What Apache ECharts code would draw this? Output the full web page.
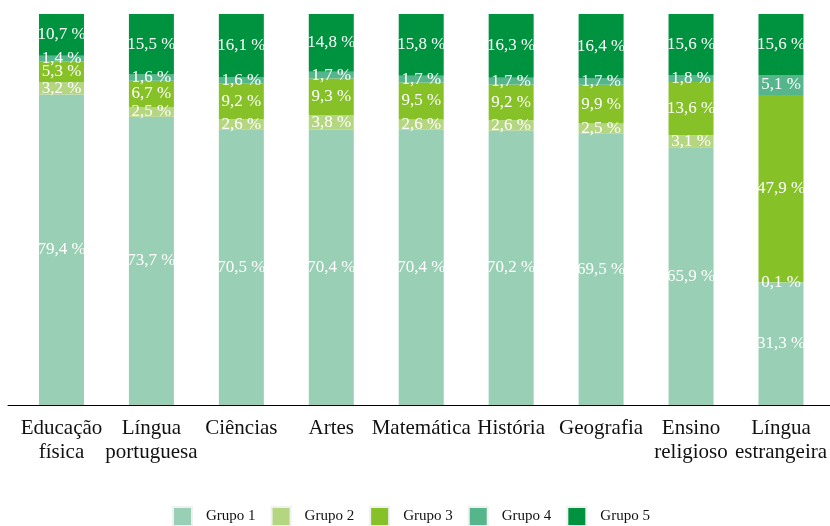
<!DOCTYPE html>
<html>
<head>
<meta charset="utf-8">
<script src="https://cdn.jsdelivr.net/npm/echarts@6/dist/echarts.min.js"></script>
<style>
  html, body { margin: 0; padding: 0; background: #fff; }
  #chart { width: 830px; height: 526px; }
</style>
</head>
<body>
<div id="chart"></div>
<script>
// Subjects (x axis)
const categories = [
  'Educação\nfísica', 'Língua\nportuguesa', 'Ciências', 'Artes', 'Matemática',
  'História', 'Geografia', 'Ensino\nreligioso', 'Língua\nestrangeira'
];

// Share of each group per subject (%)
const grupo1 = [79.4, 73.7, 70.5, 70.4, 70.4, 70.2, 69.5, 65.9, 31.3];
const grupo2 = [3.2, 2.5, 2.6, 3.8, 2.6, 2.6, 2.5, 3.1, 0.1];
const grupo3 = [5.3, 6.7, 9.2, 9.3, 9.5, 9.2, 9.9, 13.6, 47.9];
const grupo4 = [1.4, 1.6, 1.6, 1.7, 1.7, 1.7, 1.7, 1.8, 5.1];
const grupo5 = [10.7, 15.5, 16.1, 14.8, 15.8, 16.3, 16.4, 15.6, 15.6];

const seriesNames = ['Grupo 1', 'Grupo 2', 'Grupo 3', 'Grupo 4', 'Grupo 5'];
const seriesData = [grupo1, grupo2, grupo3, grupo4, grupo5];
const colors = ['#99cfb4', '#b5d681', '#86c128', '#55b68b', '#00933f'];

const FONT = 'Liberation Serif';

const chart = echarts.init(document.getElementById('chart'));

const fmt = p => p.value.toFixed(1).replace('.', ',') + ' %';

chart.setOption({
  animation: false,
  color: colors,
  textStyle: { fontFamily: FONT },
  grid: [
    // full-width panel, carries the baseline
    { left: 8, right: 0, top: 14, bottom: 121 },
    // bars
    { left: 16.5, right: 3.5, top: 14, bottom: 121 }
  ],
  xAxis: [
    {
      type: 'category', gridIndex: 0, data: categories,
      axisLine: { show: true, lineStyle: { color: '#000', width: 1 } },
      axisTick: { show: false }, axisLabel: { show: false }, splitLine: { show: false }
    },
    {
      type: 'category', gridIndex: 1, data: categories,
      axisLine: { show: false }, axisTick: { show: false },
      axisLabel: {
        interval: 0, margin: 11, color: '#111',
        fontFamily: FONT, fontSize: 21, lineHeight: 24
      }
    }
  ],
  yAxis: [
    { type: 'value', gridIndex: 0, min: 0, max: 100, show: false },
    { type: 'value', gridIndex: 1, min: 0, max: 100, show: false }
  ],
  legend: {
    top: 506,
    left: 172,
    padding: 0,
    icon: 'rect',
    itemWidth: 19,
    itemHeight: 19,
    itemGap: 15,
    itemStyle: { borderColor: '#f0f0f0', borderWidth: 2 },
    textStyle: { fontFamily: FONT, fontSize: 15, color: '#111', padding: [0, 0, 0, 9] },
    data: seriesNames
  },
  series: seriesNames.map((name, i) => ({
    name,
    type: 'bar',
    stack: 'total',
    xAxisIndex: 1,
    yAxisIndex: 1,
    barWidth: 45,
    data: seriesData[i],
    itemStyle: { color: colors[i] },
    label: {
      show: true,
      position: 'inside',
      color: '#fff',
      fontFamily: FONT,
      fontSize: 17,
      formatter: fmt
    }
  }))
});
</script>
</body>
</html>
